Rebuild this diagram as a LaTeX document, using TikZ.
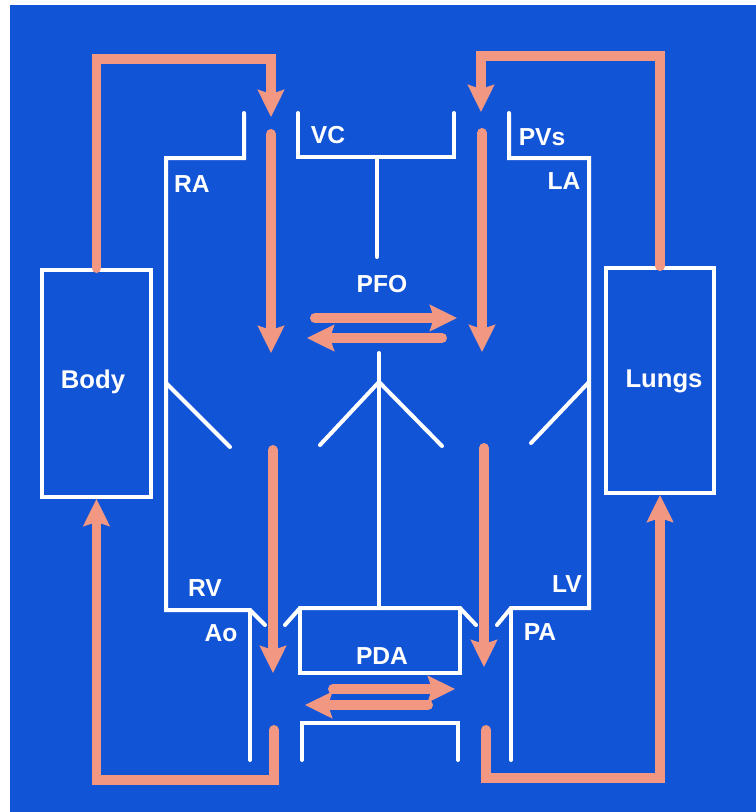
\documentclass[tikz,border=0pt]{standalone}
\usepackage{fontspec}
\setsansfont{Liberation Sans}
\usetikzlibrary{arrows.meta,positioning}
\definecolor{slideblue}{RGB}{18,84,214}
\definecolor{flowpink}{RGB}{242,152,130}

\begin{document}
\begin{tikzpicture}[
    x=0.02cm, y=-0.02cm,
    wall/.style={draw=white,line width=0.08cm,line cap=round,line join=miter},
    flow/.style={draw=flowpink,line width=0.2cm,line cap=round,line join=miter,
                 -{Stealth[length=0.54cm,width=0.52cm,inset=0.08cm]}},
    organ/.style={rectangle,draw=white,line width=0.08cm,inner sep=0pt,
                  minimum width=2.18cm},
    lbl/.style={text=white,font=\sffamily\bfseries\fontsize{14}{16}\selectfont,
                anchor=base,inner sep=0pt},
    big/.style={lbl,font=\sffamily\bfseries\fontsize{14.6}{17}\selectfont}
  ]
    % Background
    \useasboundingbox (0,0) rectangle (756,812);
    \fill[white] (0,0) rectangle (756,812);
    \fill[slideblue] (10,5) rectangle (756,812);

    % Organs
    \node[organ,minimum height=4.54cm] (body)  at (96.5,383.5) {};
    \node[organ,minimum height=4.5cm]  (lungs) at (660,380.5) {};
    \node[big] (bodytxt)  at (93,388)  {Body};
    \node[big] (lungstxt) at (664,387) {Lungs};

    % Right heart: RA, RV, Ao
    \draw[wall] (244,113) -- (244,158) -- (166,158) -- (166,610) -- (250,610) -- (265,625);
    \draw[wall] (250,610) -- (250,760);
    \draw[wall] (166,383) -- (230,447);
    % Left heart: PVs, LA, LV, PA
    \draw[wall] (509,113) -- (509,158) -- (589,158) -- (589,608) -- (511,608) -- (497,625);
    \draw[wall] (511,608) -- (511,760);
    \draw[wall] (589,382) -- (531,443);
    % VC and septum
    \draw[wall] (298,113) -- (298,157) -- (454,157) -- (454,113);
    \draw[wall] (377,157) -- (377,257);
    \draw[wall] (379,353) -- (379,608);
    \draw[wall] (320,445) -- (379,382) -- (442,446);
    % PDA
    \draw[wall] (285,625) -- (300,608) -- (460,608) -- (476,625);
    \draw[wall] (300,608) -- (300,673) -- (460,673) -- (460,608);
    \draw[wall] (302,760) -- (302,723) -- (458,723) -- (458,760);

    % Labels
    \node[lbl] (vc)  at (328,143) {VC};
    \node[lbl] (ra)  at (192,192) {RA};
    \node[lbl] (pvs) at (542,145) {PVs};
    \node[lbl] (la)  at (564,189) {LA};
    \node[lbl] (pfo) at (382,292) {PFO};
    \node[lbl] (rv)  at (205,596) {RV};
    \node[lbl] (ao)  at (221,641) {Ao};
    \node[lbl] (lv)  at (567,592) {LV};
    \node[lbl] (pa)  at (540,640) {PA};
    \node[lbl] (pda) at (382,664) {PDA};

    % Flow points
    \coordinate (tl) at (96.5,59);
    \coordinate (tr) at (660,56);
    \coordinate (bl) at (96.5,780);
    \coordinate (br) at (660,778);
    \coordinate (ra in)  at (271,117);
    \coordinate (la in)  at (481,112);
    \coordinate (ao out) at (274,730);
    \coordinate (pa out) at (486,730);

    % Circulation
    \draw[flow] (body.north) -- (tl) -| (ra in);
    \draw[flow] (lungs.north) -- (tr) -| (la in);
    \draw[flow] (ao out) |- (bl) -- (body.south);
    \draw[flow] (pa out) |- (br) -- (lungs.south);
    % Through the heart
    \draw[flow] (271,134) -- (271,353);
    \draw[flow] (273,450) -- (273,673);
    \draw[flow] (482,133) -- (482,352);
    \draw[flow] (484,448) -- (484,667);
    % Shunts
    \draw[flow] (315,318) -- (457,318);
    \draw[flow] (442,338) -- (307,338);
    \draw[flow] (333,689) -- (455,689);
    \draw[flow] (428,705) -- (305,705);
  \end{tikzpicture}
\end{document}
